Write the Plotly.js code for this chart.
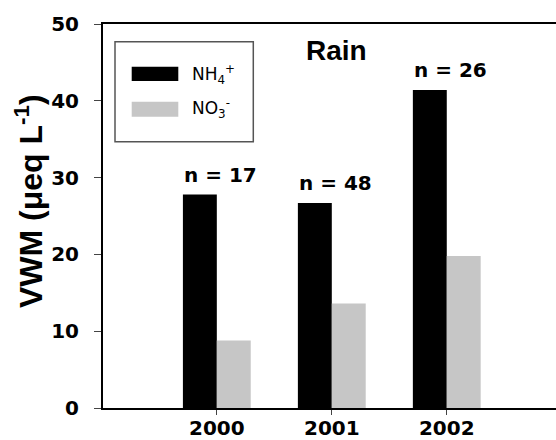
<!DOCTYPE html>
<html>
<head>
<meta charset="utf-8">
<script src="https://cdn.plot.ly/plotly-3.0.1.min.js"></script>
<style>html,body{margin:0;padding:0;background:#fff;}#chart{width:556px;height:440px;}</style>
</head>
<body>
<div id="chart"></div>
<script>
// ---- data ----
const years = [2000, 2001, 2002];
const nh4 = [27.8, 26.7, 41.4];
const no3 = [8.8, 13.6, 19.8];
const sampleCounts = ['17', '48', '26'];
const seriesNames = ['NH<sub>4</sub><sup>+</sup>', 'NO<sub>3</sub><sup>-</sup>'];
const yTicks = [0, 10, 20, 30, 40, 50];
const panelTitle = 'Rain';
const yTitle = 'VWM (\u03bceq L<sup>-1</sup>)';

const colors = ['#000000', '#c6c6c6'];
const boldFont = {family: 'DejaVu Sans, sans-serif', size: 20, color: '#000', weight: 700};

const traces = [
  {type: 'bar', x: years, y: nh4, name: seriesNames[0], marker: {color: colors[0], line: {width: 0}}, hoverinfo: 'x+y'},
  {type: 'bar', x: years, y: no3, name: seriesNames[1], marker: {color: colors[1], line: {width: 0}}, hoverinfo: 'x+y'}
];

// plot-area pixel helpers for the hand-drawn legend box and titles
const L = 103, T = 24, W = 453, H = 384;
const px = v => (v - L) / W;
const py = v => (T + H - v) / H;

const annotations = years.map((yr, i) => ({
  x: yr, y: Math.max(nh4[i], no3[i]), xref: 'x', yref: 'y',
  text: 'n = ' + sampleCounts[i], showarrow: false,
  xanchor: 'center', yanchor: 'bottom', xshift: 4, yshift: 6,
  font: {family: 'DejaVu Sans, sans-serif', size: 20, color: '#000', weight: 700}
}));
annotations.push({
  x: px(336), y: py(50), xref: 'paper', yref: 'paper', text: panelTitle, showarrow: false,
  xanchor: 'center', yanchor: 'middle',
  font: {family: 'Liberation Sans, Arial, sans-serif', size: 28, color: '#000', weight: 700}
});
// y-axis title
annotations.push({
  x: px(29), y: py(201), xref: 'paper', yref: 'paper', text: yTitle, showarrow: false,
  textangle: -90, xanchor: 'center', yanchor: 'middle',
  font: {family: 'Liberation Sans, Arial, sans-serif', size: 32, color: '#000', weight: 700}
});
const legendY = [74, 108];
seriesNames.forEach((nm, i) => {
  annotations.push({
    x: px(190), y: py(legendY[i]), xref: 'paper', yref: 'paper', text: nm, showarrow: false,
    xanchor: 'left', yanchor: 'middle',
    font: {family: 'DejaVu Sans, sans-serif', size: 17, color: '#000'}
  });
});

const shapes = [
  {type: 'rect', xref: 'paper', yref: 'paper', x0: px(115), x1: px(253.3), y0: py(141.7), y1: py(41.7),
   line: {color: '#555', width: 1.5}, fillcolor: 'rgba(0,0,0,0)'},
  {type: 'rect', xref: 'paper', yref: 'paper', x0: px(131.7), x1: px(178.3), y0: py(81), y1: py(66.7),
   line: {width: 0}, fillcolor: colors[0]},
  {type: 'rect', xref: 'paper', yref: 'paper', x0: px(131.7), x1: px(178.3), y0: py(116.7), y1: py(101.7),
   line: {width: 0}, fillcolor: colors[1]}
];

const layout = {
  width: 556, height: 440,
  margin: {l: L, r: 0, t: T, b: 440 - T - H, pad: 0},
  paper_bgcolor: '#fff', plot_bgcolor: '#fff',
  showlegend: false,
  barmode: 'group', bargap: 0.41, bargroupgap: 0,
  xaxis: {
    range: [1999.01, 2002.95], tickvals: years, ticktext: years.map(String),
    showline: true, linecolor: '#000', linewidth: 2, mirror: true,
    ticks: 'outside', ticklen: 5, tickwidth: 1, tickcolor: '#444',
    showgrid: false, zeroline: false, tickfont: boldFont, ticklabelstandoff: -4
  },
  yaxis: {
    range: [0, 50], tickvals: yTicks,
    showline: true, linecolor: '#000', linewidth: 2,
    ticks: 'outside', ticklen: 7, tickwidth: 1, tickcolor: '#444',
    showgrid: false, zeroline: false, tickfont: boldFont, ticklabelstandoff: 11
  },
  annotations: annotations,
  shapes: shapes
};

Plotly.newPlot('chart', traces, layout, {displayModeBar: false, staticPlot: true});
</script>
</body>
</html>
